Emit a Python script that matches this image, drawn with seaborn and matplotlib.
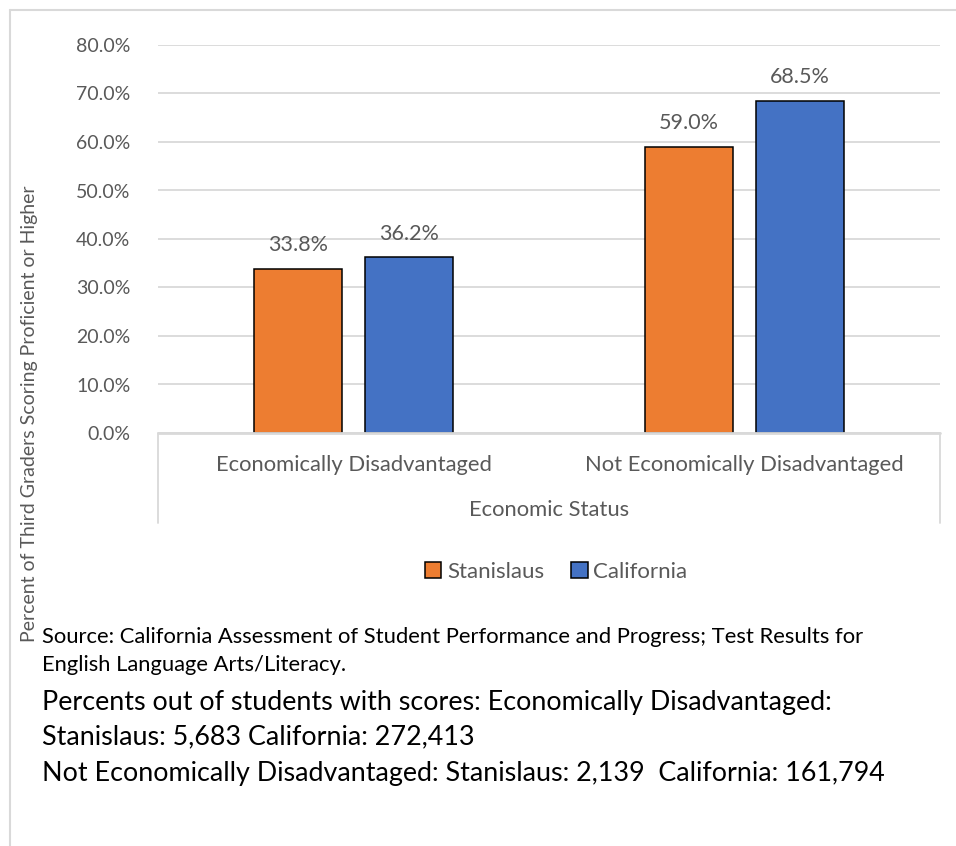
import pandas as pd
import matplotlib.pyplot as plt
import seaborn as sns
from matplotlib.lines import Line2D

# Datos
categories = ['Economically Disadvantaged', 'Not Economically Disadvantaged']
regions = ['Stanislaus', 'California']
stanislaus = [33.8, 59.0]
california = [36.2, 68.5]
y_ticks = [0, 10, 20, 30, 40, 50, 60, 70, 80]

df = pd.DataFrame({
    'status': categories * 2,
    'region': [regions[0]] * 2 + [regions[1]] * 2,
    'pct': stanislaus + california,
})

sns.set_theme(style='white')
plt.rcParams['font.family'] = ['Lato', 'DejaVu Sans']

gray = '#595959'
grid = '#d9d9d9'
W, H = 956, 846

fig = plt.figure(figsize=(W / 100, H / 100), dpi=100)
ax = fig.add_axes([158 / W, 1 - 433 / H, (940 - 158) / W, (433 - 45) / H])

sns.barplot(data=df, x='status', y='pct', hue='region', order=categories, hue_order=regions,
            palette=['#ED7D31', '#4472C4'], saturation=1, edgecolor='black', linewidth=1.1,
            width=0.566, gap=0.2, ax=ax, zorder=3)

for cont in ax.containers:
    ax.bar_label(cont, labels=[f'{b.get_height():.1f}%' for b in cont], padding=10,
                 fontsize=15.5, color=gray)

ax.set_ylim(0, 80)
ax.set_xlim(-0.5, 1.5)
ax.set_yticks(y_ticks)
ax.set_yticklabels([f'{t:.1f}%' for t in y_ticks], fontsize=14, color=gray)
ax.tick_params(axis='y', length=0, pad=20)
ax.tick_params(axis='x', length=0, pad=16)
ax.set_xticklabels(categories, fontsize=15.8, color=gray)
ax.grid(axis='y', color=grid, lw=1.3, zorder=0)
ax.set_xlabel('Economic Status', fontsize=15.8, color=gray, labelpad=18)
ax.set_ylabel('')
for s in ax.spines.values():
    s.set_visible(False)

# Eje de categorías con caja
ax.add_line(Line2D([0, 1], [0, 0], transform=ax.transAxes, color=grid, lw=2, clip_on=False, zorder=4))
for xx in [0, 1]:
    ax.add_line(Line2D([xx, xx], [0, -(523 - 433) / (433 - 45)], transform=ax.transAxes,
                       color=grid, lw=1.3, clip_on=False))

ax.legend(loc='center', bbox_to_anchor=(556 / W, 1 - 572 / H), bbox_transform=fig.transFigure,
          ncol=2, frameon=False, fontsize=16, labelcolor=gray, handlelength=0.75, handleheight=0.75,
          handletextpad=0.25, columnspacing=1.2)

fig.text(30 / W, 1 - 414 / H, 'Percent of Third Graders Scoring Proficient or Higher',
         rotation=90, ha='center', va='center', fontsize=14, color=gray)

# Notas al pie
fig.text(42 / W, 1 - 637 / H, 'Source: California Assessment of Student Performance and Progress; Test Results for',
         fontsize=15.8, color='black', va='center')
fig.text(42 / W, 1 - 665 / H, 'English Language Arts/Literacy.', fontsize=15.8, color='black', va='center')
fig.text(42 / W, 1 - 702 / H, 'Percents out of students with scores: Economically Disadvantaged:',
         fontsize=19.4, color='black', va='center')
fig.text(42 / W, 1 - 737 / H, 'Stanislaus: 5,683 California: 272,413', fontsize=19.4, color='black', va='center')
fig.text(42 / W, 1 - 773 / H, 'Not Economically Disadvantaged: Stanislaus: 2,139  California: 161,794',
         fontsize=19.4, color='black', va='center')

# Borde del gráfico
fig.add_artist(Line2D([10 / W, 10 / W], [0, 1 - 10 / H], transform=fig.transFigure, color=grid, lw=1.5))
fig.add_artist(Line2D([10 / W, 1], [1 - 10 / H, 1 - 10 / H], transform=fig.transFigure, color=grid, lw=1.5))

fig.savefig('out.png', dpi=100)
